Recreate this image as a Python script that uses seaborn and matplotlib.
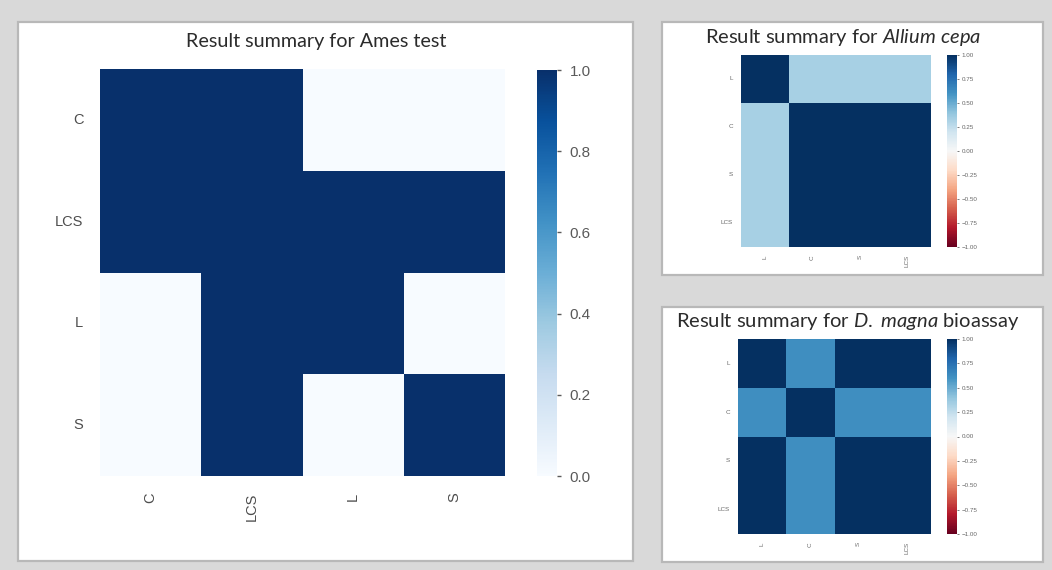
import matplotlib
matplotlib.use("Agg")
import matplotlib.pyplot as plt
from matplotlib.patches import Rectangle
import numpy as np
import pandas as pd
import seaborn as sns

# Ames test summary (binary outcome per pair of samples)
ames_labels = ["C", "LCS", "L", "S"]
ames_values = [
    [1, 1, 0, 0],
    [1, 1, 1, 1],
    [0, 1, 1, 0],
    [0, 1, 0, 1],
]

# Allium cepa summary
cepa_labels = ["L", "C", "S", "LCS"]
cepa_values = [
    [1.00, 0.33, 0.33, 0.33],
    [0.33, 1.00, 1.00, 1.00],
    [0.33, 1.00, 1.00, 1.00],
    [0.33, 1.00, 1.00, 1.00],
]

# D. magna bioassay summary
magna_labels = ["L", "C", "S", "LCS"]
magna_values = [
    [1.00, 0.62, 1.00, 1.00],
    [0.62, 1.00, 0.62, 0.62],
    [1.00, 0.62, 1.00, 1.00],
    [1.00, 0.62, 1.00, 1.00],
]

sns.set_theme(style="white")
plt.rcParams["font.family"] = ["Liberation Sans", "DejaVu Sans"]
plt.rcParams["mathtext.fontset"] = "custom"
plt.rcParams["mathtext.rm"] = "Lato"
plt.rcParams["mathtext.it"] = "Lato:italic"

W, H = 1052, 570
fig = plt.figure(figsize=(W / 100, H / 100), dpi=100, facecolor="#d9d9d9")


def box(x0, y0, x1, y1):
    """Figure-fraction rect from pixel corners (top-left origin)."""
    return [x0 / W, 1 - y1 / H, (x1 - x0) / W, (y1 - y0) / H]


def panel(x0, y0, x1, y1):
    fig.patches.append(Rectangle((x0 / W, 1 - y1 / H), (x1 - x0) / W, (y1 - y0) / H,
                                 transform=fig.transFigure, facecolor="white",
                                 edgecolor="#b8b8b8", linewidth=1.6, zorder=-5))


panel(18, 22, 633, 561)
panel(662, 22, 1043, 275)
panel(662, 307, 1043, 562)

title_kw = dict(family="Lato", color="#2b2b2b", ha="center", va="center")

# Large panel: Ames test
ax1 = fig.add_axes(box(100, 69, 505, 476))
cax1 = fig.add_axes(box(537, 70, 557, 476))
df1 = pd.DataFrame(ames_values, index=ames_labels, columns=ames_labels)
sns.heatmap(df1, ax=ax1, cbar_ax=cax1, cmap="Blues", vmin=0, vmax=1)
ax1.tick_params(axis="both", length=0, labelsize=10.5, colors="#4d4d4d", pad=12)
ax1.set_yticklabels(ames_labels, rotation=0)
ax1.set_xticklabels(ames_labels, rotation=90)
cax1.tick_params(labelsize=11, colors="#5a5a5a", length=3, width=1, pad=6)
cax1.set_yticks([0, 0.2, 0.4, 0.6, 0.8, 1.0])
for sp in cax1.spines.values():
    sp.set_visible(False)
fig.text(316 / W, 1 - 42 / H, "Result summary for Ames test", fontsize=14.2, **title_kw)


def small_map(values, labels, ax_px, cax_px, title, title_xy):
    ax = fig.add_axes(box(*ax_px))
    cax = fig.add_axes(box(*cax_px))
    df = pd.DataFrame(values, index=labels, columns=labels)
    sns.heatmap(df, ax=ax, cbar_ax=cax, cmap="RdBu", vmin=-1, vmax=1)
    ax.tick_params(axis="both", length=0, labelsize=4.5, colors="#666666", pad=6)
    ax.set_yticklabels(labels, rotation=0)
    ax.set_xticklabels(labels, rotation=90)
    ticks = [-1, -0.75, -0.5, -0.25, 0, 0.25, 0.5, 0.75, 1.0]
    cax.set_yticks(ticks)
    cax.set_yticklabels([f"{v:.2f}".replace("-", "\u2212") for v in ticks])
    cax.tick_params(labelsize=4.5, colors="#666666", length=1.5, width=0.6, pad=2)
    for sp in cax.spines.values():
        sp.set_visible(False)
    fig.text(title_xy[0] / W, 1 - title_xy[1] / H, title, fontsize=14.5, **title_kw)


small_map(cepa_values, cepa_labels, (741, 55, 931, 247), (947, 55, 957, 247),
          r"Result summary for $\it{Allium\ cepa}$", (843, 37))
small_map(magna_values, magna_labels, (738, 339, 931, 534), (947, 339, 957, 534),
          r"Result summary for $\it{D.\ magna}$ bioassay", (848, 322))

fig.savefig("out.png", dpi=100, facecolor=fig.get_facecolor())
